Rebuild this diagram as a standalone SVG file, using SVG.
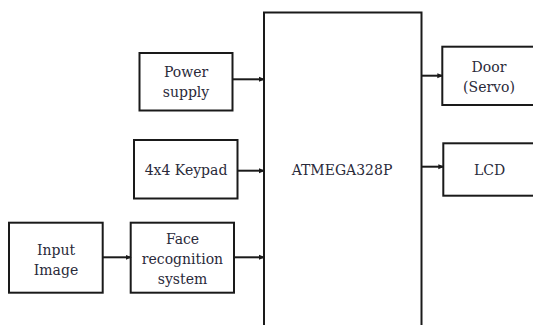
<svg xmlns="http://www.w3.org/2000/svg" width="533" height="325" viewBox="0 0 533 325">
<style>
.box{fill:#fff;stroke:#1a1a1a;stroke-width:2}
.t{font-family:"DejaVu Serif","Liberation Serif",serif;font-size:14px;fill:#2a2a3a;text-anchor:middle}
.c{stroke:#1a1a1a;stroke-width:2;fill:none;marker-end:url(#ah)}
</style>
<defs>
<marker id="ah" markerWidth="6" markerHeight="6" refX="5" refY="3" orient="auto" markerUnits="userSpaceOnUse">
<path d="M0,0.5 L6,3 L0,5.5 Z" fill="#1a1a1a"/>
</marker>
</defs>
<rect width="533" height="325" fill="#fff"/>
<g id="atmega">
<rect class="box" x="264" y="12.5" width="157.5" height="330"/>
<text class="t" x="342" y="175">ATMEGA328P</text>
</g>
<g id="power">
<rect class="box" x="139.5" y="53" width="93" height="57.5"/>
<text class="t" x="186" y="77">Power</text>
<text class="t" x="186" y="97">supply</text>
</g>
<g id="keypad">
<rect class="box" x="134" y="140" width="103.5" height="58.5"/>
<text class="t" x="186" y="175">4x4 Keypad</text>
</g>
<g id="input">
<rect class="box" x="9" y="222.7" width="93.7" height="70"/>
<text class="t" x="56" y="254.5">Input</text>
<text class="t" x="56" y="275">Image</text>
</g>
<g id="face">
<rect class="box" x="130.7" y="222.7" width="103.3" height="70"/>
<text class="t" x="182.5" y="243.5">Face</text>
<text class="t" x="182.5" y="264">recognition</text>
<text class="t" x="182.5" y="284">system</text>
</g>
<g id="door">
<rect class="box" x="442.3" y="46.7" width="100" height="58.3"/>
<text class="t" x="489" y="71.7">Door</text>
<text class="t" x="489" y="91.7">(Servo)</text>
</g>
<g id="lcd">
<rect class="box" x="443.3" y="143.3" width="100" height="52.4"/>
<text class="t" x="489.5" y="175">LCD</text>
</g>
<g id="connectors">
<line class="c" x1="232.5" y1="79.3" x2="264" y2="79.3"/>
<line class="c" x1="237.5" y1="170.7" x2="264" y2="170.7"/>
<line class="c" x1="234" y1="257.3" x2="264" y2="257.3"/>
<line class="c" x1="102.7" y1="257.3" x2="130.7" y2="257.3"/>
<line class="c" x1="421.5" y1="75.7" x2="442.3" y2="75.7"/>
<line class="c" x1="421.5" y1="166.7" x2="443.3" y2="166.7"/>
</g>
</svg>
